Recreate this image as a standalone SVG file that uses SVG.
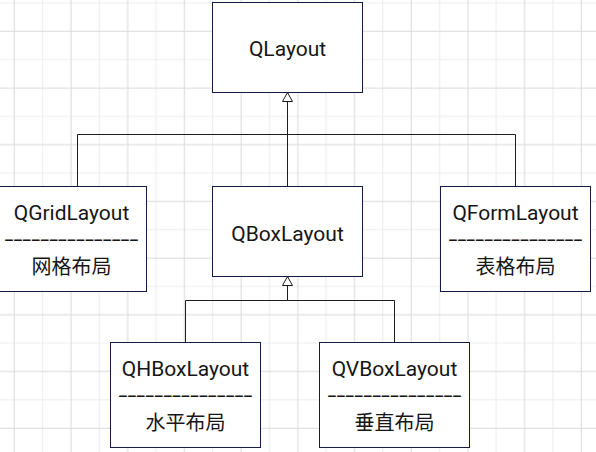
<svg xmlns="http://www.w3.org/2000/svg" width="596" height="452" viewBox="0 0 596 452">
  <style>
    .box { fill: #ffffff; stroke: #151a45; stroke-width: 1; }
    .t { font-family: Roboto, "Noto Sans", "Noto Sans CJK SC", sans-serif; font-size: 21px; fill: #161616; text-anchor: middle; }
    .zh { font-family: "Noto Sans CJK SC", sans-serif; font-size: 20px; fill: #161616; text-anchor: middle; }
    .conn { fill: none; stroke: #1c1c1c; stroke-width: 1; }
  </style>
  <defs>
    <pattern id="grid" patternUnits="userSpaceOnUse" x="0.125" y="17.125" width="56.7" height="56.7">
      <line x1="42.525" y1="0" x2="42.525" y2="56.7" stroke="#ececec" stroke-width="1"/>
      <line x1="0" y1="42.525" x2="56.7" y2="42.525" stroke="#ececec" stroke-width="1"/>
      <line x1="14.175" y1="0" x2="14.175" y2="56.7" stroke="#d9d9d9" stroke-width="1"/>
      <line x1="0" y1="14.175" x2="56.7" y2="14.175" stroke="#d9d9d9" stroke-width="1"/>
    </pattern>
    <marker id="inherit" viewBox="0 0 9 10" refX="9" refY="5" markerWidth="9" markerHeight="10" markerUnits="userSpaceOnUse" orient="auto" overflow="visible">
      <path d="M0,0 L9,5 L0,10 Z" fill="#ffffff" stroke="#1c1c1c" stroke-width="1"/>
    </marker>
  </defs>
  <rect x="0" y="0" width="596" height="452" fill="#ffffff"/>
  <rect x="0" y="0" width="596" height="452" fill="url(#grid)"/>

  <g id="connectors">
    <path class="conn" d="M287.5 186.5 V92.5" marker-end="url(#inherit)"/>
    <path class="conn" d="M77.5 186.5 V134.5 H287.5"/>
    <path class="conn" d="M515.5 186.5 V134.5 H287.5"/>
    <path class="conn" d="M287.5 300.5 V276.5" marker-end="url(#inherit)"/>
    <path class="conn" d="M185.5 342.5 V300.5 H394.5 V342.5"/>
  </g>

  <g id="QLayout">
    <rect class="box" x="212.5" y="2.5" width="150" height="90"/>
    <text class="t" x="287.5" y="56">QLayout</text>
  </g>

  <g id="QBoxLayout">
    <rect class="box" x="212.5" y="186.5" width="150" height="90"/>
    <text class="t" x="287.5" y="240.5">QBoxLayout</text>
  </g>

  <g id="QGridLayout">
    <rect class="box" x="-3.5" y="186.5" width="150" height="105"/>
    <text class="t" x="71.5" y="220">QGridLayout</text>
    <text class="t" x="71.5" y="245.5" textLength="134" lengthAdjust="spacingAndGlyphs">---------------</text>
    <text class="zh" x="71.5" y="274">网格布局</text>
  </g>

  <g id="QFormLayout">
    <rect class="box" x="440.5" y="186.5" width="150" height="105"/>
    <text class="t" x="515.5" y="220">QFormLayout</text>
    <text class="t" x="515.5" y="245.5" textLength="134" lengthAdjust="spacingAndGlyphs">---------------</text>
    <text class="zh" x="515.5" y="274">表格布局</text>
  </g>

  <g id="QHBoxLayout">
    <rect class="box" x="110.5" y="342.5" width="150" height="105"/>
    <text class="t" x="185.5" y="376">QHBoxLayout</text>
    <text class="t" x="185.5" y="401.5" textLength="134" lengthAdjust="spacingAndGlyphs">---------------</text>
    <text class="zh" x="185.5" y="430">水平布局</text>
  </g>

  <g id="QVBoxLayout">
    <rect class="box" x="319.5" y="342.5" width="150" height="105"/>
    <text class="t" x="394.5" y="376">QVBoxLayout</text>
    <text class="t" x="394.5" y="401.5" textLength="134" lengthAdjust="spacingAndGlyphs">---------------</text>
    <text class="zh" x="394.5" y="430">垂直布局</text>
  </g>
</svg>
